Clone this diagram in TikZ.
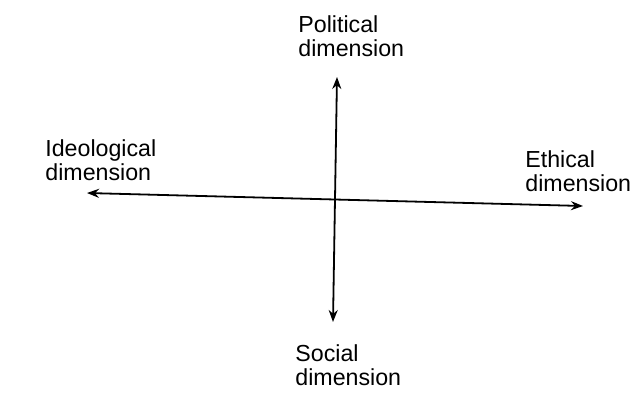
\documentclass[tikz,border=0pt]{standalone}
\usepackage{fontspec}
\setmainfont{Liberation Sans}
\usetikzlibrary{arrows.meta}
\begin{document}
\begin{tikzpicture}[x=0.5pt,y=-0.5pt,
    axis/.style={line width=0.9pt,{Stealth[length=6pt,width=4.5pt]}-{Stealth[length=6pt,width=4.5pt]}},
    dimlabel/.style={align=left,inner sep=0pt,font=\fontsize{11.6}{12.2}\selectfont}]
  \useasboundingbox (0,0) rectangle (639,392);
  % axis ends
  \coordinate (west) at (87,193);
  \coordinate (east) at (583,206);
  \coordinate (north) at (337,77);
  \coordinate (south) at (333,322);
  \draw[axis] (west) -- (east);
  \draw[axis] (north) -- (south);
  % labels
  \node[dimlabel,anchor=west] (political) at (298,36) {Political\\dimension};
  \node[dimlabel,anchor=west] (ideological) at (45,160) {Ideological\\dimension};
  \node[dimlabel,anchor=west] (ethical) at (525,171) {Ethical\\dimension};
  \node[dimlabel,anchor=west] (social) at (295,365) {Social\\dimension};
\end{tikzpicture}
\end{document}
